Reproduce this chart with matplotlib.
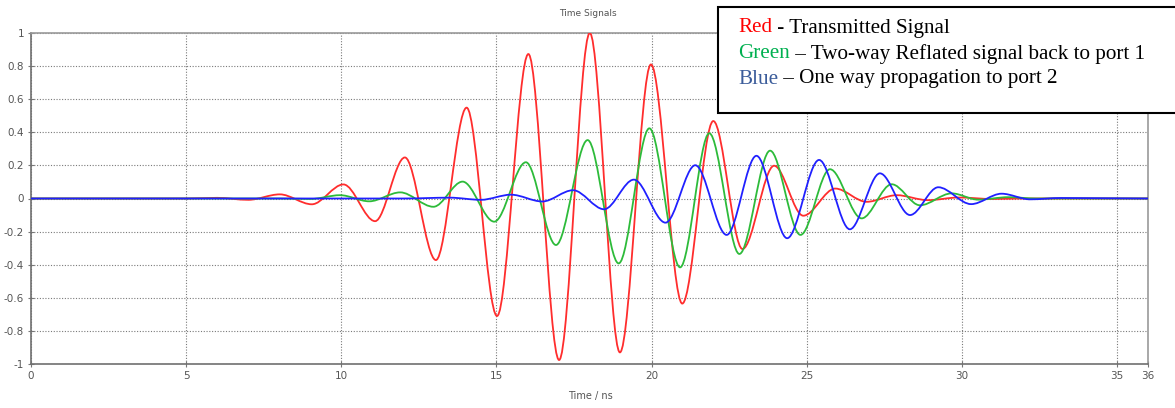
import numpy as np
import matplotlib
matplotlib.use("Agg")
import matplotlib.pyplot as plt
from matplotlib.path import Path
from matplotlib.patches import PathPatch, Rectangle
from matplotlib.text import Annotation

# ---- data (extrema: time in ns, amplitude) ----
red_t = [0, 5.0, 6.0, 7.0, 8.02, 9.05, 10.07, 11.09, 12.05, 13.05, 14.04, 15.02,
         16.03, 17.02, 18.01, 18.98, 19.98, 20.99, 21.99, 22.93, 23.95, 24.89,
         25.92, 26.93, 27.9, 28.9, 29.9, 31.0, 32.0, 36]
red_v = [0, 0, 0.004, -0.008, 0.025, -0.035, 0.085, -0.137, 0.248, -0.372, 0.549, -0.71,
         0.873, -0.976, 1.0, -0.93, 0.81, -0.635, 0.468, -0.305, 0.198, -0.104,
         0.06, -0.02, 0.02, -0.01, 0.006, -0.003, 0, 0]

green_t = [0, 8.0, 9.0, 9.96, 10.9, 11.9, 12.97, 13.91, 14.93, 15.95, 16.92, 17.94,
           18.94, 19.93, 20.92, 21.86, 22.83, 23.82, 24.8, 25.75, 26.77, 27.74,
           28.65, 29.67, 30.53, 31.5, 32.4, 36]
green_v = [0, 0, -0.003, 0.02, -0.017, 0.037, -0.05, 0.102, -0.14, 0.219, -0.281, 0.353,
           -0.392, 0.424, -0.416, 0.394, -0.335, 0.289, -0.22, 0.177, -0.12, 0.086,
           -0.041, 0.031, -0.007, 0.008, 0, 0]

blue_t = [0, 12.0, 13.5, 14.5, 15.47, 16.48, 17.47, 18.47, 19.43, 20.45, 21.41, 22.42,
          23.38, 24.37, 25.4, 26.39, 27.36, 28.33, 29.24, 30.3, 31.28, 32.2, 33.2, 36]
blue_v = [0, 0, 0.005, -0.008, 0.023, -0.018, 0.05, -0.065, 0.114, -0.146, 0.201, -0.22,
          0.258, -0.24, 0.233, -0.186, 0.152, -0.1, 0.068, -0.034, 0.029, -0.005, 0.003, 0]

x_ticks = [0, 5, 10, 15, 20, 25, 30, 35, 36]
y_ticks = [-1, -0.8, -0.6, -0.4, -0.2, 0, 0.2, 0.4, 0.6, 0.8, 1]
y_ticklabels = ["-1", "-0.8", "-0.6", "-0.4", "-0.2", "0", "0.2", "0.4", "0.6", "0.8", "1"]

title = "Time Signals"
xlabel = "Time / ns"
legend_lines = [
    ("Red", " - Transmitted Signal", "#ff0000"),
    ("Green", " \u2013 Two-way Reflated signal back to port 1", "#00b050"),
    ("Blue", " \u2013 One way propagation to port 2", "#3b5c9a"),
]


def smooth_path(ts, vs):
    """Smooth curve through the extrema (horizontal tangents at each point)."""
    verts = [(ts[0], vs[0])]
    codes = [Path.MOVETO]
    for i in range(len(ts) - 1):
        x0, y0, x1, y1 = ts[i], vs[i], ts[i + 1], vs[i + 1]
        dx = x1 - x0
        verts += [(x0 + dx / 3, y0), (x1 - dx / 3, y1), (x1, y1)]
        codes += [Path.CURVE4] * 3
    return Path(verts, codes)


fig = plt.figure(figsize=(11.75, 4.08), dpi=100)
ax = fig.add_axes([31 / 1175, 44 / 408, 1117 / 1175, 331 / 408])

for ts, vs, col in [(red_t, red_v, "#ff2d2d"), (green_t, green_v, "#2dbb3a"),
                    (blue_t, blue_v, "#2020ff")]:
    ax.add_patch(PathPatch(smooth_path(ts, vs), fill=False, edgecolor=col,
                           lw=1.3, joinstyle="round", capstyle="round", zorder=3))

ax.set_xlim(0, 36)
ax.set_ylim(-1, 1)
ax.set_xticks(x_ticks)
ax.set_xticklabels([str(v) for v in x_ticks])
ax.set_yticks(y_ticks)
ax.set_yticklabels(y_ticklabels)
ax.grid(True, color="#7a7a7a", linestyle=(0, (1.0, 1.5)), linewidth=0.8, zorder=0)
ax.tick_params(axis="both", direction="inout", length=4, width=0.8, color="#777777",
               labelsize=7.5, labelcolor="#555555", pad=3)
for side, c in [("left", "#707070"), ("bottom", "#707070"), ("top", "#9a9a9a"),
                ("right", "#9a9a9a")]:
    ax.spines[side].set_color(c)
    ax.spines[side].set_linewidth(1.2)

fig.text(588 / 1175, 1 - 13 / 408, title, ha="center", va="center", fontsize=6.5,
         color="#555555")
fig.text(590 / 1175, 1 - 396 / 408, xlabel, ha="center", va="center", fontsize=7,
         color="#555555")

# annotation box (top right)
fig.patches.append(Rectangle((718 / 1175, 1 - 113 / 408), 0.4, 106 / 408,
                             transform=fig.transFigure, facecolor="white",
                             edgecolor="black", lw=1.5, zorder=10))
ys = [28, 54, 79]
for (word, rest, col), yp in zip(legend_lines, ys):
    t1 = fig.text(738 / 1175, 1 - yp / 408, word, color=col, fontsize=15.2,
                  family="Liberation Serif", ha="left", va="center", zorder=11)
    fig.add_artist(Annotation(rest, xy=(1, 0.5), xycoords=t1, va="center", ha="left",
                              fontsize=15.2, family="Liberation Serif", color="black",
                              annotation_clip=False, zorder=11))

fig.savefig("out.png", dpi=100)
